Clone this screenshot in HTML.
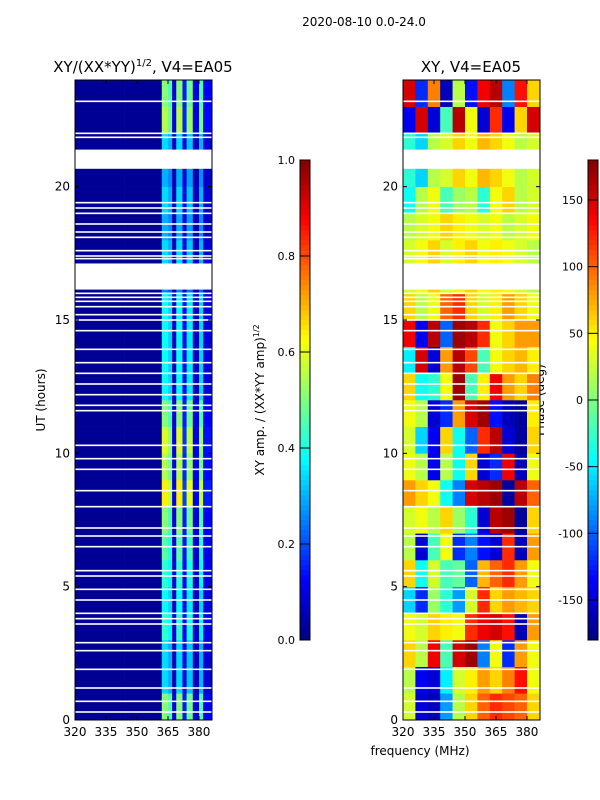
<!DOCTYPE html>
<html><head><meta charset="utf-8"><style>
body{margin:0;background:#fff;}
svg{display:block;font-family:"DejaVu Sans","Liberation Sans",sans-serif;}
</style></head><body>
<svg id="fig" width="600" height="800">
<text x="364" y="26" font-size="12" text-anchor="middle">2020-08-10 0.0-24.0</text>
<text x="143" y="72" font-size="15" text-anchor="middle">XY/(XX*YY)<tspan font-size="10" dy="-6">1/2</tspan><tspan dy="6">, V4=EA05</tspan></text>
<text x="471" y="72" font-size="15" text-anchor="middle">XY, V4=EA05</text>
<text transform="translate(45,400) rotate(-90)" font-size="12" text-anchor="middle">UT (hours)</text>
<text x="420" y="755" font-size="12" text-anchor="middle">frequency (MHz)</text>
<text transform="translate(264,400) rotate(-90)" font-size="12" text-anchor="middle">XY amp. / (XX*YY amp)<tspan font-size="8" dy="-5">1/2</tspan></text>
<text transform="translate(544,400) rotate(-90)" font-size="12" text-anchor="middle">Phase (deg)</text>
<g id="gl"></g>
<g id="gr"></g>
<g id="axes"></g>
</svg>
<script>
const freqEdges=[320,326,332,338,344,350,356,362,365,367,369,372,374,377,380,382,386.3];
const ampCol=[0.02,0.02,0.02,0.02,0.02,0.02,0.02,0.85,0.75,0.15,0.85,0.25,0.8,0.15,0.75,0.2];
const ampRow=[0.6,0.4,0.4,0.5,0.45,0.5,0.55,0.6,0.75,0.65,0.7,0.6,0.45,0.45,0.45,0.45,0.3,0.4,0.35,0.4,0.35,0.4,0.65,0.6];
const phaseEdges=[320,326,332,338,344,350,356,362,368,374,380,386.3];
const phase=[
[30,-150,-160,-80,20,60,100,120,110,100,60],
[20,-140,-150,-50,30,50,80,60,90,130,40],
[60,20,140,-20,150,170,-90,40,-120,80,40],
[40,30,60,50,40,120,140,150,130,-160,80],
[-60,-120,10,-30,-80,30,120,60,80,70,60],
[60,-40,30,-20,-10,-100,70,100,120,80,40],
[20,-150,-20,40,-120,-90,-130,-150,120,-160,80],
[30,40,20,60,10,-30,-150,160,170,-170,60],
[80,60,40,-40,-90,150,160,170,-170,160,100],
[40,20,-140,20,-40,60,-150,-120,140,-160,40],
[30,-60,-140,60,-40,-100,120,160,-150,-170,60],
[40,20,-150,-120,80,150,170,-130,-160,-170,50],
[60,-40,-30,40,170,-20,50,140,80,60,90],
[-50,150,-150,80,160,110,-20,40,60,70,50],
[140,-140,160,-100,170,160,120,40,60,80,80],
[60,20,40,100,120,60,30,50,80,60,40],
[30,40,60,30,50,60,40,50,40,30,20],
[30,40,60,30,50,60,40,50,40,30,20],
[20,30,40,60,50,40,30,40,20,30,40],
[-40,20,40,-20,10,20,-30,40,60,20,30],
[-30,-60,20,30,60,40,70,60,40,20,30],
[-30,-60,20,30,60,40,70,60,40,20,30],
[-140,150,-150,-20,160,40,-150,120,-140,60,150],
[150,-120,90,-160,20,-130,140,160,-90,130,60]];
const gaps=[[20.67,21.39],[16.14,17.12]];
const lines=[23.2,22.0,21.85,19.4,19.2,19.0,18.6,18.3,18.1,17.6,17.4,17.3,16.0,15.85,15.7,15.5,15.2,15.0,14.6,13.9,13.4,13.0,12.6,12.2,11.8,11.6,10.3,9.8,9.4,8.6,8.0,7.2,6.9,6.5,5.6,5.4,4.9,4.5,4.0,3.8,3.6,2.9,2.6,1.9,1.2,0.7,0.3];
const xTicks=[320,335,350,365,380];
const yTicks=[0,5,10,15,20];
const ampTicks=[0.0,0.2,0.4,0.6,0.8,1.0];
const phaseTicks=[-150,-100,-50,0,50,100,150];

const NS="http://www.w3.org/2000/svg";
const T=80,B=720,FMIN=320,FMAX=386.3;
function yS(h){return B-(h/24)*(B-T);}
function jet(v){v=Math.max(0,Math.min(1,v));
 const r=Math.min(4*v-1.5,-4*v+4.5),g=Math.min(4*v-0.5,-4*v+3.5),b=Math.min(4*v+0.5,-4*v+2.5);
 const c=x=>Math.round(255*Math.max(0,Math.min(1,x)));return `rgb(${c(r)},${c(g)},${c(b)})`;}
function mk(tag,at,p){const e=document.createElementNS(NS,tag);for(const k in at)e.setAttribute(k,at[k]);p.appendChild(e);return e;}
function panel(L,R,g,edges,valFn){
 const xS=f=>L+(f-FMIN)/(FMAX-FMIN)*(R-L);
 for(let i=0;i<24;i++)for(let j=0;j<edges.length-1;j++){
  const r=mk('rect',{x:xS(edges[j]),y:yS(i+1),width:xS(edges[j+1])-xS(edges[j])+0.3,height:yS(i)-yS(i+1)+0.3,fill:jet(valFn(i,j))},g);
  
  
 }
 gaps.forEach(gp=>{const r=mk('rect',{x:L,y:yS(gp[1]),width:R-L,height:yS(gp[0])-yS(gp[1]),fill:'#fff'},g);
  });
 lines.forEach(h=>{const r=mk('rect',{x:L,y:yS(h)-0.8,width:R-L,height:1.6,fill:'#fff'},g);
  });
 const ax=document.getElementById('axes');
 const fr=mk('rect',{x:L,y:T,width:R-L,height:B-T,fill:'none',stroke:'#000','stroke-width':1},ax);
 
 xTicks.forEach(t=>{const x=xS(t);mk('line',{x1:x,x2:x,y1:B,y2:B-4,stroke:'#000'},ax);mk('line',{x1:x,x2:x,y1:T,y2:T+4,stroke:'#000'},ax);
  const tx=mk('text',{x:x,y:B+16,'font-size':12,'text-anchor':'middle'},ax);tx.textContent=t;
  });
 yTicks.forEach(t=>{const y=yS(t);mk('line',{x1:L,x2:L+4,y1:y,y2:y,stroke:'#000'},ax);mk('line',{x1:R,x2:R-4,y1:y,y2:y,stroke:'#000'},ax);
  const tx=mk('text',{x:L-5,y:y+4,'font-size':12,'text-anchor':'end'},ax);tx.textContent=t;
  });
}
panel(75,212,document.getElementById('gl'),freqEdges,(i,j)=>Math.max(0.02,ampCol[j]*ampRow[i]));
panel(403,540,document.getElementById('gr'),phaseEdges,(i,j)=>(phase[i][j]+180)/360);

function cbar(x,ticks,vmin,vmax,name){
 const ax=document.getElementById('axes');const top=160,bot=640;
 const g=mk('g',{},ax);
 for(let k=0;k<96;k++){mk('rect',{x:x,y:bot-(k+1)*5,width:10,height:5.3,fill:jet((k+0.5)/96)},g);}
 mk('rect',{x:x,y:top,width:10,height:bot-top,fill:'none',stroke:'#000'},g);
 ticks.forEach(t=>{const y=bot-(t-vmin)/(vmax-vmin)*(bot-top);
  mk('line',{x1:x,x2:x+10,y1:y,y2:y,stroke:'#000'},g);
  const tx=mk('text',{x:x-5,y:y+4,'font-size':11,'text-anchor':'end'},g);tx.textContent=(vmax===1?t.toFixed(1):t);
  });
}
cbar(300,ampTicks,0,1,'amplitude-colorbar');
cbar(588,phaseTicks,-180,180,'phase-colorbar');
</script>
</body></html>
